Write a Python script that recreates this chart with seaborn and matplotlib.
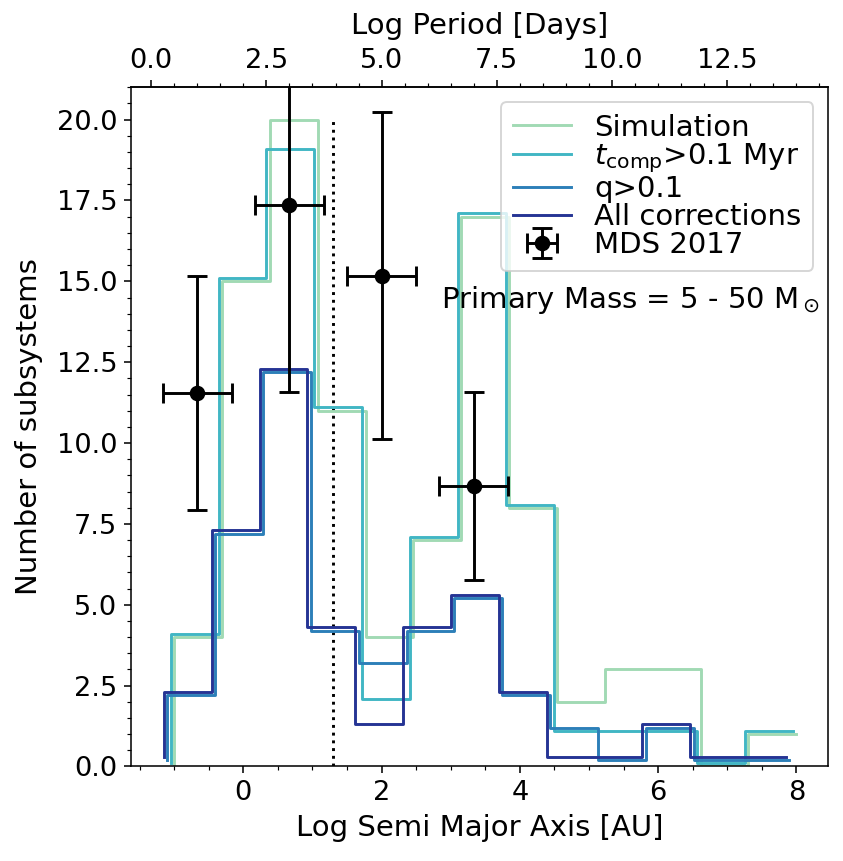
import numpy as np
import pandas as pd
import matplotlib
matplotlib.use("Agg")
import matplotlib.pyplot as plt
from matplotlib.ticker import MultipleLocator, FixedLocator
import seaborn as sns

# histogram counts per bin (13 bins of log a between -1 and 8)
bin_lo, bin_hi, n_bins = -1.0, 8.0, 13
sim_counts = [4, 15, 20, 11, 4, 7, 17, 8, 2, 3, 3, 0, 1]
tcomp_counts = [4, 15, 19, 11, 2, 7, 17, 8, 1, 1, 1, 0, 1]
q_counts = [2, 7, 12, 4, 3, 4, 5, 2, 1, 0, 1, 0, 0]
all_counts = [2, 7, 12, 4, 1, 4, 5, 2, 0, 0, 1, 0, 0]
labels = ["Simulation", r"$t_{\rm comp}$>0.1 Myr", "q>0.1", "All corrections"]

# MDS 2017 observed points
mds_x = [-0.667, 0.667, 2.0, 3.333]
mds_y = [11.55, 17.35, 15.18, 8.67]
mds_xerr = [0.5, 0.5, 0.5, 0.5]
mds_yerr = [3.62, 5.77, 5.07, 2.9]

cut_loga = 1.3
cut_top = 20

# small offsets so the step lines don't hide each other
dx = [0.0, -0.05, -0.1, -0.15]
dy = [0.0, 0.1, 0.2, 0.3]
colors = ["#a1dab4", "#41b6c4", "#2c7fb8", "#253494"]

fig = plt.figure(figsize=(843 / 140, 861 / 140), dpi=140)
ax = fig.add_axes([0.1554, 0.1098, 0.8268, 0.7888])

edges = np.linspace(bin_lo, bin_hi, n_bins + 1)
ax.plot([cut_loga, cut_loga], [0, cut_top], color="k", ls=":", lw=1.5)

for counts, lab, c, sx, sy in zip([sim_counts, tcomp_counts, q_counts, all_counts],
                                  labels, colors, dx, dy):
    df = pd.DataFrame({"x": edges + sx,
                       "y": np.concatenate([[0], counts]) + sy})
    sns.lineplot(data=df, x="x", y="y", ax=ax, color=c, label=lab,
                 drawstyle="steps-pre", estimator=None, sort=False, lw=1.5)

ax.errorbar(mds_x, mds_y, xerr=mds_xerr, yerr=mds_yerr, fmt="o", color="k",
            ms=7, capsize=5, elinewidth=1.5, capthick=1.5, label="MDS 2017")

ax.set_ylim(0, 21)
ax.xaxis.set_major_locator(MultipleLocator(2))
ax.xaxis.set_minor_locator(MultipleLocator(0.5))
ax.yaxis.set_major_locator(MultipleLocator(2.5))
ax.yaxis.set_minor_locator(MultipleLocator(0.5))
ax.tick_params(which="both", top=False, right=False, labelsize=14)
ax.set_xlabel("Log Semi Major Axis [AU]", fontsize=15)
ax.set_ylabel("Number of subsystems", fontsize=15, labelpad=7)

# top axis: log P = 1.5 log a + 2
secax = ax.secondary_xaxis("top", functions=(lambda a: 1.5 * a + 2, lambda p: (p - 2) / 1.5))
secax.xaxis.set_major_locator(FixedLocator(np.arange(0, 13, 2.5)))
secax.xaxis.set_minor_locator(MultipleLocator(0.5))
secax.tick_params(labelsize=14)
secax.set_xlabel("Log Period [Days]", fontsize=15, labelpad=7)

ax.text(0.988, 0.687, r"Primary Mass = 5 - 50 M$_\odot$", transform=ax.transAxes,
        ha="right", va="center", fontsize=15)

ax.legend(loc="upper right", fontsize=15, labelspacing=0)

fig.savefig("out.png", dpi=140)
